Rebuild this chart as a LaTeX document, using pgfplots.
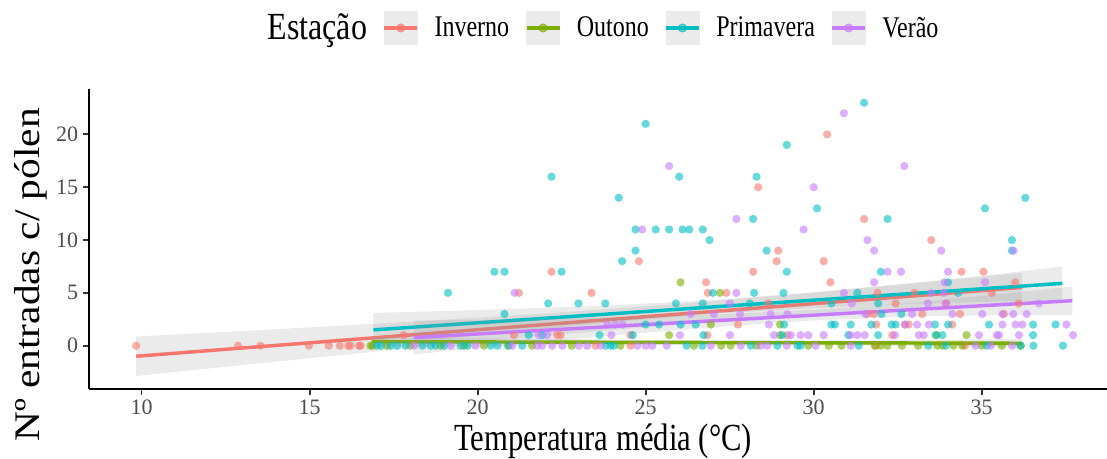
\documentclass[border=0pt]{standalone}
\usepackage{graphicx}
\usepackage{pgfplots}
\pgfplotsset{compat=1.18}
\usepackage{fontspec}
\setmainfont{Liberation Serif}
\definecolor{cInv}{HTML}{F8766D}
\definecolor{cOut}{HTML}{7CAE00}
\definecolor{cPri}{HTML}{00BFC4}
\definecolor{cVer}{HTML}{C77CFF}
\definecolor{tickgray}{HTML}{4D4D4D}
\definecolor{axgray}{HTML}{333333}
\definecolor{keygray}{HTML}{EBEBEB}
\definecolor{bandgray}{HTML}{999999}
\pgfplotsset{
  pts/.style={only marks, color=#1, mark=*, mark size=3.1pt, mark options={solid, fill=#1, draw opacity=0, fill opacity=0.6}, forget plot},
  band/.style={draw=none, fill=bandgray, fill opacity=0.2, forget plot},
  fit/.style={#1, line width=2.6pt, forget plot},
  key/.style={legend image code/.code={
      \path (-12.75pt,0) (37.5pt,0);
      \fill[keygray] (0pt,-12.4pt) rectangle (24.75pt,12.4pt);
      \draw[#1, line width=2.6pt] (0pt,0pt) -- (24.75pt,0pt);
      \fill[#1, fill opacity=0.6] (12.4pt,0pt) circle (3.1pt);}}
}
\begin{document}
\begin{tikzpicture}
\useasboundingbox (-66.6pt,-52.65pt) rectangle (763.65pt,291.6pt);
\begin{axis}[
  at={(0,0)}, anchor=south west,
  scale only axis, width=763.65pt, height=224.85pt,
  xmin=8.43, xmax=38.73, ymin=-4.08, ymax=24.3,
  axis x line*=bottom, axis y line*=left,
  axis line style={line width=1.6pt, black},
  xtick={10,15,20,25,30,35}, ytick={0,5,10,15,20},
  tick style={line width=1.4pt, axgray},
  tick align=outside, major tick length=4.5pt,
  ticklabel style={font=\fontsize{16.5}{16.5}\selectfont, text=tickgray},
  /pgf/number format/assume math mode=true,
  xlabel={\scalebox{1}[1.25]{Temperatura média (°C)}},
  ylabel={\scalebox{1.15}[1]{Nº entradas c/ pólen}},
  xlabel style={font=\fontsize{23}{23}\selectfont, at={(axis description cs:0.505,-0.1734)}, anchor=center},
  ylabel style={font=\fontsize{27}{27}\selectfont, at={(axis description cs:-0.0568,0.38)}, anchor=center},
  legend style={at={(axis description cs:0.505,1.2035)}, anchor=center, draw=none, fill=none,
    font=\fontsize{18}{18}\selectfont, inner sep=0pt, column sep=0pt, nodes={inner sep=0pt}},
  legend columns=5,
]
% ---- points ----
\addplot[pts=cInv] coordinates {
(9.84,0) (12.87,0) (13.54,0) (14.98,0) (15.57,0) (15.9,0) (16.15,0) (16.22,0) (16.47,0) (16.52,0) (17.8,1)
(21.08,1) (21.23,5) (22.2,7) (22.37,1) (22.47,1) (23.39,5) (23.51,0) (24.55,1) (24.55,0) (24.8,8)
(26.8,6) (26.84,1) (26.85,5) (27.4,5) (27.75,2) (28.2,7) (28.35,15) (28.65,4) (28.9,8) (28.95,9) (29.22,1)
(30.3,8) (30.4,20) (30.5,6) (31.5,12) (31.6,3) (31.79,3) (31.85,0) (31.86,2) (31.9,5) (32.34,1) (32.44,4) (32.71,2) (32.83,2)
(33.0,5) (33.23,3) (33.5,10) (33.95,4) (34.12,2) (34.36,3) (34.4,7) (34.5,0) (35.05,7) (35.3,5) (35.66,3) (36.0,6) (36.1,4)
};
\addplot[pts=cOut] coordinates {
(16.81,0) (16.87,0) (17.3,0) (18.0,0) (18.9,0) (19.6,0) (20.19,0) (20.9,0) (21.62,0) (22.8,0) (24.25,0) (25.7,1) (26.04,6)
(26.44,0) (26.94,2) (27.21,5) (27.25,0) (27.53,0) (28.3,0) (29.0,2) (29.0,1) (29.84,0) (30.45,0) (30.83,0) (31.82,0) (31.99,0)
(32.19,0) (32.63,0) (33.11,0) (33.66,1) (33.68,0) (33.83,0) (34.16,0) (34.42,0) (34.55,1) (35.0,0) (35.6,0) (36.16,0)
};
\addplot[pts=cPri] coordinates {
(17.0,0) (17.12,0) (17.41,0) (17.61,0) (17.86,0) (18.36,0) (18.6,0) (18.75,0) (19.0,0) (19.12,5) (19.5,0) (19.7,0) (20.39,0)
(20.5,7) (20.59,0) (20.8,7) (20.8,3) (20.93,0) (21.33,0) (21.52,1) (21.92,1) (22.1,4) (22.2,16) (22.5,7) (23.0,4)
(23.63,1) (23.8,4) (23.81,0) (23.96,0) (24.05,0) (24.2,14) (24.3,8) (24.62,1) (24.7,9) (24.7,11) (25.0,21) (25.0,2) (25.3,11)
(25.4,2) (25.7,11) (25.9,4) (26.0,16) (26.04,2) (26.1,11) (26.22,0) (26.3,11) (26.49,2) (26.69,0) (26.7,11) (26.7,4) (26.72,1)
(26.9,10) (27.0,5) (28.1,4) (28.13,0) (28.2,12) (28.23,5) (28.3,16) (28.6,9) (28.92,0) (29.07,1) (29.1,5) (29.12,2) (29.2,19)
(29.2,7) (29.52,0) (29.61,0) (30.1,13) (30.53,4) (30.53,2) (30.63,2) (31.03,1) (31.1,2) (31.3,5) (31.34,0) (31.5,23) (31.72,2)
(31.92,4) (31.92,1) (32.0,7) (32.02,3) (32.2,12) (32.32,2) (32.44,2) (32.61,3) (33.41,0) (33.61,2) (33.63,1) (33.83,1) (33.93,0)
(34.0,6) (34.0,2) (34.3,5) (35.1,13) (35.15,0) (35.22,2) (35.9,10) (35.9,9) (36.16,0) (36.3,14) (36.53,2) (36.53,1) (36.54,0)
(37.2,2) (37.42,0)
};
\addplot[pts=cVer] coordinates {
(18.11,0) (19.2,0) (19.94,0) (21.03,0) (21.1,5) (21.77,0) (21.82,1) (21.92,0) (22.07,1) (22.22,0) (22.52,0) (23.01,0) (23.26,0)
(23.66,0) (23.86,2) (23.98,1) (24.1,2) (24.32,2) (24.75,0) (24.9,11) (25.0,0) (25.2,0) (25.63,0) (25.7,17) (26.02,1) (26.34,3)
(26.94,0) (27.03,3) (27.51,4) (27.51,1) (27.7,5) (27.7,12) (27.81,3) (27.83,0) (28.42,0) (28.62,0) (28.67,2) (28.72,3) (28.82,1)
(29.2,0) (29.22,3) (29.32,1) (29.61,1) (29.7,11) (29.84,1) (30.0,15) (30.06,0) (30.3,1) (30.9,22) (30.9,5) (31.1,0) (31.1,1)
(31.13,4) (31.3,1) (31.52,1) (31.54,3) (31.6,10) (31.8,9) (31.8,6) (32.2,7) (32.42,1) (32.6,7) (32.7,17) (32.73,2) (32.93,3)
(33.08,2) (33.13,1) (33.28,1) (33.4,4) (33.43,2) (33.5,5) (33.8,9) (33.87,5) (33.9,6) (33.93,4) (34.0,7) (34.13,3) (34.82,0)
(34.92,1) (35.02,3) (35.1,6) (35.27,0) (35.45,1) (35.52,1) (35.62,3) (35.62,2) (35.91,0) (35.94,3) (35.95,9) (36.01,2) (36.11,1)
(36.21,2) (36.34,3) (36.7,4) (37.52,2) (37.72,1)
};
% ---- smooths ----
\addplot[band] coordinates {(9.84,0.87) (14,1.56) (18,2.27) (22,3.05) (26,3.96) (30,5.03) (34,6.21) (36.2,6.91)
 (36.2,4.11) (34,3.71) (30,2.93) (26,2.02) (22,0.95) (18,-0.23) (14,-1.5) (9.84,-2.87)} -- cycle;
\addplot[fit=cInv] coordinates {(9.84,-1.0) (36.2,5.51)};
\addplot[band] coordinates {(16.85,0.83) (22,0.64) (27,0.5) (32,0.51) (36.2,0.63)
 (36.2,-0.17) (32,0.01) (27,0.1) (22,0.04) (16.85,-0.07)} -- cycle;
\addplot[fit=cOut] coordinates {(16.85,0.38) (36.2,0.23)};
\addplot[band] coordinates {(16.9,3.1) (20,3.37) (24,3.82) (27.2,4.36) (30,5.06) (33,5.96) (35.5,6.79) (37.4,7.5)
 (37.4,4.3) (35.5,4.19) (33,3.96) (30,3.56) (27.2,3.06) (24,2.22) (20,0.97) (16.9,-0.1)} -- cycle;
\addplot[fit=cPri] coordinates {(16.9,1.5) (37.4,5.9)};
\addplot[band] coordinates {(18.1,2.37) (21,2.49) (24,2.67) (27,2.95) (30,3.39) (33,4.07) (35.5,4.87) (37.7,5.61)
 (37.7,2.91) (35.5,2.87) (33,2.77) (30,2.39) (27,1.75) (24,0.97) (21,0.09) (18.1,-0.83)} -- cycle;
\addplot[fit=cVer] coordinates {(18.1,0.77) (37.7,4.26)};
% ---- legend ----
\addlegendimage{empty legend}
\addlegendentry{\fontsize{24}{24}\selectfont\scalebox{1}[1.2]{Estação}}
\addlegendimage{key=cInv}
\addlegendentry{\scalebox{1}[1.25]{Inverno}}
\addlegendimage{key=cOut}
\addlegendentry{\scalebox{1}[1.25]{Outono}}
\addlegendimage{key=cPri}
\addlegendentry{\scalebox{1}[1.25]{Primavera}}
\addlegendimage{key=cVer}
\addlegendentry{\scalebox{1}[1.25]{Verão}}
\end{axis}
\end{tikzpicture}
\end{document}
